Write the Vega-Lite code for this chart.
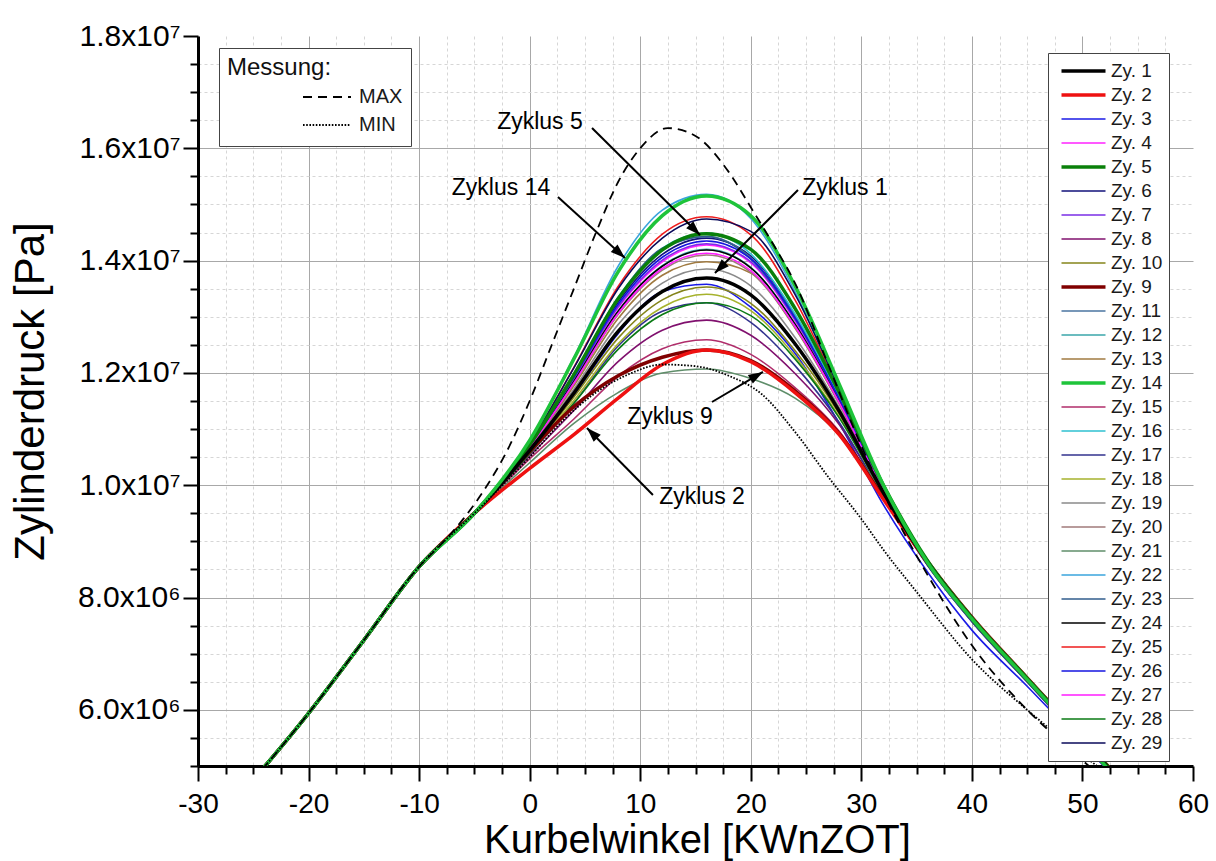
{
  "$schema": "https://vega.github.io/schema/vega-lite/v6.json",
  "width": 995,
  "height": 730,
  "autosize": {"type": "none"},
  "padding": {"left": 198, "top": 36, "right": 23, "bottom": 95},
  "background": "white",
  "config": {
    "font": "Liberation Sans",
    "view": {"stroke": null},
    "axis": {
      "labelFont": "Liberation Sans", "titleFont": "Liberation Sans",
      "labelColor": "#000", "titleColor": "#000", "titleFontWeight": "normal",
      "domainColor": "#000", "domainWidth": 3, "tickColor": "#000", "tickWidth": 2,
      "gridWidth": 1, "labelFlush": false, "labelOverlap": false, "labelBound": false
    },
    "legend": {"labelFont": "Liberation Sans", "titleFont": "Liberation Sans", "labelColor": "#1a1a1a", "titleColor": "#111", "titleFontWeight": "normal"}
  },
  "resolve": {"axis": {"x": "independent", "y": "independent"}},
  "datasets": {
    "zyklen": [
      {"z":"Zy. 3","x":-26,"p":4.52e6},{"z":"Zy. 3","x":-20,"p":5.94e6},{"z":"Zy. 3","x":-15,"p":7.24e6},{"z":"Zy. 3","x":-10,"p":8.55e6},{"z":"Zy. 3","x":-5,"p":9.5e6},{"z":"Zy. 3","x":0,"p":1.06e7},{"z":"Zy. 3","x":4,"p":1.16e7},{"z":"Zy. 3","x":8,"p":1.27e7},{"z":"Zy. 3","x":12,"p":1.345e7},{"z":"Zy. 3","x":16,"p":1.358e7},{"z":"Zy. 3","x":20,"p":1.317e7},{"z":"Zy. 3","x":24,"p":1.235e7},{"z":"Zy. 3","x":28,"p":1.11e7},{"z":"Zy. 3","x":32,"p":9.65e6},{"z":"Zy. 3","x":36,"p":8.45e6},{"z":"Zy. 3","x":40,"p":7.42e6},{"z":"Zy. 3","x":45,"p":6.42e6},{"z":"Zy. 3","x":50,"p":5.4e6},{"z":"Zy. 3","x":53,"p":4.78e6},
      {"z":"Zy. 4","x":-26,"p":4.52e6},{"z":"Zy. 4","x":-20,"p":5.94e6},{"z":"Zy. 4","x":-15,"p":7.24e6},{"z":"Zy. 4","x":-10,"p":8.55e6},{"z":"Zy. 4","x":-5,"p":9.5e6},{"z":"Zy. 4","x":0,"p":1.069e7},{"z":"Zy. 4","x":4,"p":1.188e7},{"z":"Zy. 4","x":8,"p":1.316e7},{"z":"Zy. 4","x":12,"p":1.398e7},{"z":"Zy. 4","x":16,"p":1.428e7},{"z":"Zy. 4","x":20,"p":1.396e7},{"z":"Zy. 4","x":24,"p":1.293e7},{"z":"Zy. 4","x":28,"p":1.151e7},{"z":"Zy. 4","x":32,"p":9.92e6},{"z":"Zy. 4","x":36,"p":8.61e6},{"z":"Zy. 4","x":40,"p":7.61e6},{"z":"Zy. 4","x":45,"p":6.53e6},{"z":"Zy. 4","x":50,"p":5.46e6},{"z":"Zy. 4","x":53,"p":4.81e6},
      {"z":"Zy. 6","x":-26,"p":4.52e6},{"z":"Zy. 6","x":-20,"p":5.94e6},{"z":"Zy. 6","x":-15,"p":7.24e6},{"z":"Zy. 6","x":-10,"p":8.55e6},{"z":"Zy. 6","x":-5,"p":9.5e6},{"z":"Zy. 6","x":0,"p":1.071e7},{"z":"Zy. 6","x":4,"p":1.194e7},{"z":"Zy. 6","x":8,"p":1.326e7},{"z":"Zy. 6","x":12,"p":1.411e7},{"z":"Zy. 6","x":16,"p":1.44e7},{"z":"Zy. 6","x":20,"p":1.408e7},{"z":"Zy. 6","x":24,"p":1.302e7},{"z":"Zy. 6","x":28,"p":1.156e7},{"z":"Zy. 6","x":32,"p":9.93e6},{"z":"Zy. 6","x":36,"p":8.61e6},{"z":"Zy. 6","x":40,"p":7.6e6},{"z":"Zy. 6","x":45,"p":6.52e6},{"z":"Zy. 6","x":50,"p":5.45e6},{"z":"Zy. 6","x":53,"p":4.8e6},
      {"z":"Zy. 7","x":-26,"p":4.52e6},{"z":"Zy. 7","x":-20,"p":5.94e6},{"z":"Zy. 7","x":-15,"p":7.24e6},{"z":"Zy. 7","x":-10,"p":8.55e6},{"z":"Zy. 7","x":-5,"p":9.5e6},{"z":"Zy. 7","x":0,"p":1.069e7},{"z":"Zy. 7","x":4,"p":1.189e7},{"z":"Zy. 7","x":8,"p":1.318e7},{"z":"Zy. 7","x":12,"p":1.401e7},{"z":"Zy. 7","x":16,"p":1.43e7},{"z":"Zy. 7","x":20,"p":1.398e7},{"z":"Zy. 7","x":24,"p":1.295e7},{"z":"Zy. 7","x":28,"p":1.152e7},{"z":"Zy. 7","x":32,"p":9.92e6},{"z":"Zy. 7","x":36,"p":8.6e6},{"z":"Zy. 7","x":40,"p":7.59e6},{"z":"Zy. 7","x":45,"p":6.51e6},{"z":"Zy. 7","x":50,"p":5.44e6},{"z":"Zy. 7","x":53,"p":4.79e6},
      {"z":"Zy. 8","x":-26,"p":4.52e6},{"z":"Zy. 8","x":-20,"p":5.94e6},{"z":"Zy. 8","x":-15,"p":7.24e6},{"z":"Zy. 8","x":-10,"p":8.55e6},{"z":"Zy. 8","x":-5,"p":9.5e6},{"z":"Zy. 8","x":0,"p":1.052e7},{"z":"Zy. 8","x":4,"p":1.133e7},{"z":"Zy. 8","x":8,"p":1.22e7},{"z":"Zy. 8","x":12,"p":1.276e7},{"z":"Zy. 8","x":16,"p":1.294e7},{"z":"Zy. 8","x":20,"p":1.267e7},{"z":"Zy. 8","x":24,"p":1.199e7},{"z":"Zy. 8","x":28,"p":1.108e7},{"z":"Zy. 8","x":32,"p":9.8e6},{"z":"Zy. 8","x":36,"p":8.58e6},{"z":"Zy. 8","x":40,"p":7.58e6},{"z":"Zy. 8","x":45,"p":6.5e6},{"z":"Zy. 8","x":50,"p":5.43e6},{"z":"Zy. 8","x":53,"p":4.78e6},
      {"z":"Zy. 10","x":-26,"p":4.52e6},{"z":"Zy. 10","x":-20,"p":5.94e6},{"z":"Zy. 10","x":-15,"p":7.24e6},{"z":"Zy. 10","x":-10,"p":8.55e6},{"z":"Zy. 10","x":-5,"p":9.5e6},{"z":"Zy. 10","x":0,"p":1.059e7},{"z":"Zy. 10","x":4,"p":1.157e7},{"z":"Zy. 10","x":8,"p":1.262e7},{"z":"Zy. 10","x":12,"p":1.33e7},{"z":"Zy. 10","x":16,"p":1.353e7},{"z":"Zy. 10","x":20,"p":1.324e7},{"z":"Zy. 10","x":24,"p":1.24e7},{"z":"Zy. 10","x":28,"p":1.127e7},{"z":"Zy. 10","x":32,"p":9.85e6},{"z":"Zy. 10","x":36,"p":8.6e6},{"z":"Zy. 10","x":40,"p":7.6e6},{"z":"Zy. 10","x":45,"p":6.52e6},{"z":"Zy. 10","x":50,"p":5.45e6},{"z":"Zy. 10","x":53,"p":4.8e6},
      {"z":"Zy. 11","x":-26,"p":4.52e6},{"z":"Zy. 11","x":-20,"p":5.94e6},{"z":"Zy. 11","x":-15,"p":7.24e6},{"z":"Zy. 11","x":-10,"p":8.55e6},{"z":"Zy. 11","x":-5,"p":9.5e6},{"z":"Zy. 11","x":0,"p":1.071e7},{"z":"Zy. 11","x":4,"p":1.196e7},{"z":"Zy. 11","x":8,"p":1.33e7},{"z":"Zy. 11","x":12,"p":1.42e7},{"z":"Zy. 11","x":16,"p":1.443e7},{"z":"Zy. 11","x":20,"p":1.405e7},{"z":"Zy. 11","x":24,"p":1.3e7},{"z":"Zy. 11","x":28,"p":1.155e7},{"z":"Zy. 11","x":32,"p":9.9e6},{"z":"Zy. 11","x":36,"p":8.58e6},{"z":"Zy. 11","x":40,"p":7.58e6},{"z":"Zy. 11","x":45,"p":6.5e6},{"z":"Zy. 11","x":50,"p":5.44e6},{"z":"Zy. 11","x":53,"p":4.79e6},
      {"z":"Zy. 12","x":-26,"p":4.52e6},{"z":"Zy. 12","x":-20,"p":5.94e6},{"z":"Zy. 12","x":-15,"p":7.24e6},{"z":"Zy. 12","x":-10,"p":8.55e6},{"z":"Zy. 12","x":-5,"p":9.5e6},{"z":"Zy. 12","x":0,"p":1.068e7},{"z":"Zy. 12","x":4,"p":1.185e7},{"z":"Zy. 12","x":8,"p":1.31e7},{"z":"Zy. 12","x":12,"p":1.391e7},{"z":"Zy. 12","x":16,"p":1.42e7},{"z":"Zy. 12","x":20,"p":1.388e7},{"z":"Zy. 12","x":24,"p":1.287e7},{"z":"Zy. 12","x":28,"p":1.149e7},{"z":"Zy. 12","x":32,"p":9.91e6},{"z":"Zy. 12","x":36,"p":8.6e6},{"z":"Zy. 12","x":40,"p":7.6e6},{"z":"Zy. 12","x":45,"p":6.52e6},{"z":"Zy. 12","x":50,"p":5.45e6},{"z":"Zy. 12","x":53,"p":4.8e6},
      {"z":"Zy. 13","x":-26,"p":4.52e6},{"z":"Zy. 13","x":-20,"p":5.94e6},{"z":"Zy. 13","x":-15,"p":7.24e6},{"z":"Zy. 13","x":-10,"p":8.55e6},{"z":"Zy. 13","x":-5,"p":9.5e6},{"z":"Zy. 13","x":0,"p":1.065e7},{"z":"Zy. 13","x":4,"p":1.177e7},{"z":"Zy. 13","x":8,"p":1.297e7},{"z":"Zy. 13","x":12,"p":1.374e7},{"z":"Zy. 13","x":16,"p":1.398e7},{"z":"Zy. 13","x":20,"p":1.378e7},{"z":"Zy. 13","x":24,"p":1.28e7},{"z":"Zy. 13","x":28,"p":1.145e7},{"z":"Zy. 13","x":32,"p":9.9e6},{"z":"Zy. 13","x":36,"p":8.62e6},{"z":"Zy. 13","x":40,"p":7.62e6},{"z":"Zy. 13","x":45,"p":6.54e6},{"z":"Zy. 13","x":50,"p":5.47e6},{"z":"Zy. 13","x":53,"p":4.82e6},
      {"z":"Zy. 15","x":-26,"p":4.52e6},{"z":"Zy. 15","x":-20,"p":5.94e6},{"z":"Zy. 15","x":-15,"p":7.24e6},{"z":"Zy. 15","x":-10,"p":8.55e6},{"z":"Zy. 15","x":-5,"p":9.5e6},{"z":"Zy. 15","x":0,"p":1.047e7},{"z":"Zy. 15","x":4,"p":1.118e7},{"z":"Zy. 15","x":8,"p":1.194e7},{"z":"Zy. 15","x":12,"p":1.243e7},{"z":"Zy. 15","x":16,"p":1.259e7},{"z":"Zy. 15","x":20,"p":1.233e7},{"z":"Zy. 15","x":24,"p":1.174e7},{"z":"Zy. 15","x":28,"p":1.096e7},{"z":"Zy. 15","x":32,"p":9.77e6},{"z":"Zy. 15","x":36,"p":8.59e6},{"z":"Zy. 15","x":40,"p":7.59e6},{"z":"Zy. 15","x":45,"p":6.51e6},{"z":"Zy. 15","x":50,"p":5.44e6},{"z":"Zy. 15","x":53,"p":4.79e6},
      {"z":"Zy. 16","x":-26,"p":4.52e6},{"z":"Zy. 16","x":-20,"p":5.94e6},{"z":"Zy. 16","x":-15,"p":7.24e6},{"z":"Zy. 16","x":-10,"p":8.55e6},{"z":"Zy. 16","x":-5,"p":9.5e6},{"z":"Zy. 16","x":0,"p":1.072e7},{"z":"Zy. 16","x":4,"p":1.197e7},{"z":"Zy. 16","x":8,"p":1.335e7},{"z":"Zy. 16","x":12,"p":1.422e7},{"z":"Zy. 16","x":16,"p":1.449e7},{"z":"Zy. 16","x":20,"p":1.412e7},{"z":"Zy. 16","x":24,"p":1.305e7},{"z":"Zy. 16","x":28,"p":1.158e7},{"z":"Zy. 16","x":32,"p":9.94e6},{"z":"Zy. 16","x":36,"p":8.6e6},{"z":"Zy. 16","x":40,"p":7.6e6},{"z":"Zy. 16","x":45,"p":6.52e6},{"z":"Zy. 16","x":50,"p":5.45e6},{"z":"Zy. 16","x":53,"p":4.8e6},
      {"z":"Zy. 17","x":-26,"p":4.52e6},{"z":"Zy. 17","x":-20,"p":5.94e6},{"z":"Zy. 17","x":-15,"p":7.24e6},{"z":"Zy. 17","x":-10,"p":8.55e6},{"z":"Zy. 17","x":-5,"p":9.5e6},{"z":"Zy. 17","x":0,"p":1.056e7},{"z":"Zy. 17","x":4,"p":1.146e7},{"z":"Zy. 17","x":8,"p":1.248e7},{"z":"Zy. 17","x":12,"p":1.31e7},{"z":"Zy. 17","x":16,"p":1.325e7},{"z":"Zy. 17","x":20,"p":1.29e7},{"z":"Zy. 17","x":24,"p":1.213e7},{"z":"Zy. 17","x":28,"p":1.112e7},{"z":"Zy. 17","x":32,"p":9.8e6},{"z":"Zy. 17","x":36,"p":8.57e6},{"z":"Zy. 17","x":40,"p":7.57e6},{"z":"Zy. 17","x":45,"p":6.5e6},{"z":"Zy. 17","x":50,"p":5.43e6},{"z":"Zy. 17","x":53,"p":4.78e6},
      {"z":"Zy. 18","x":-26,"p":4.52e6},{"z":"Zy. 18","x":-20,"p":5.94e6},{"z":"Zy. 18","x":-15,"p":7.24e6},{"z":"Zy. 18","x":-10,"p":8.55e6},{"z":"Zy. 18","x":-5,"p":9.5e6},{"z":"Zy. 18","x":0,"p":1.058e7},{"z":"Zy. 18","x":4,"p":1.151e7},{"z":"Zy. 18","x":8,"p":1.252e7},{"z":"Zy. 18","x":12,"p":1.317e7},{"z":"Zy. 18","x":16,"p":1.34e7},{"z":"Zy. 18","x":20,"p":1.311e7},{"z":"Zy. 18","x":24,"p":1.23e7},{"z":"Zy. 18","x":28,"p":1.122e7},{"z":"Zy. 18","x":32,"p":9.84e6},{"z":"Zy. 18","x":36,"p":8.6e6},{"z":"Zy. 18","x":40,"p":7.6e6},{"z":"Zy. 18","x":45,"p":6.52e6},{"z":"Zy. 18","x":50,"p":5.45e6},{"z":"Zy. 18","x":53,"p":4.8e6},
      {"z":"Zy. 19","x":-26,"p":4.52e6},{"z":"Zy. 19","x":-20,"p":5.94e6},{"z":"Zy. 19","x":-15,"p":7.24e6},{"z":"Zy. 19","x":-10,"p":8.55e6},{"z":"Zy. 19","x":-5,"p":9.5e6},{"z":"Zy. 19","x":0,"p":1.064e7},{"z":"Zy. 19","x":4,"p":1.171e7},{"z":"Zy. 19","x":8,"p":1.286e7},{"z":"Zy. 19","x":12,"p":1.36e7},{"z":"Zy. 19","x":16,"p":1.385e7},{"z":"Zy. 19","x":20,"p":1.355e7},{"z":"Zy. 19","x":24,"p":1.263e7},{"z":"Zy. 19","x":28,"p":1.138e7},{"z":"Zy. 19","x":32,"p":9.88e6},{"z":"Zy. 19","x":36,"p":8.61e6},{"z":"Zy. 19","x":40,"p":7.61e6},{"z":"Zy. 19","x":45,"p":6.53e6},{"z":"Zy. 19","x":50,"p":5.46e6},{"z":"Zy. 19","x":53,"p":4.81e6},
      {"z":"Zy. 20","x":-26,"p":4.52e6},{"z":"Zy. 20","x":-20,"p":5.94e6},{"z":"Zy. 20","x":-15,"p":7.24e6},{"z":"Zy. 20","x":-10,"p":8.55e6},{"z":"Zy. 20","x":-5,"p":9.5e6},{"z":"Zy. 20","x":0,"p":1.067e7},{"z":"Zy. 20","x":4,"p":1.181e7},{"z":"Zy. 20","x":8,"p":1.304e7},{"z":"Zy. 20","x":12,"p":1.383e7},{"z":"Zy. 20","x":16,"p":1.41e7},{"z":"Zy. 20","x":20,"p":1.379e7},{"z":"Zy. 20","x":24,"p":1.281e7},{"z":"Zy. 20","x":28,"p":1.146e7},{"z":"Zy. 20","x":32,"p":9.9e6},{"z":"Zy. 20","x":36,"p":8.6e6},{"z":"Zy. 20","x":40,"p":7.6e6},{"z":"Zy. 20","x":45,"p":6.52e6},{"z":"Zy. 20","x":50,"p":5.45e6},{"z":"Zy. 20","x":53,"p":4.8e6},
      {"z":"Zy. 21","x":-26,"p":4.52e6},{"z":"Zy. 21","x":-20,"p":5.94e6},{"z":"Zy. 21","x":-15,"p":7.24e6},{"z":"Zy. 21","x":-10,"p":8.55e6},{"z":"Zy. 21","x":-5,"p":9.5e6},{"z":"Zy. 21","x":0,"p":1.04e7},{"z":"Zy. 21","x":4,"p":1.11e7},{"z":"Zy. 21","x":8,"p":1.165e7},{"z":"Zy. 21","x":12,"p":1.2e7},{"z":"Zy. 21","x":16,"p":1.207e7},{"z":"Zy. 21","x":20,"p":1.19e7},{"z":"Zy. 21","x":24,"p":1.155e7},{"z":"Zy. 21","x":28,"p":1.09e7},{"z":"Zy. 21","x":32,"p":9.85e6},{"z":"Zy. 21","x":36,"p":8.66e6},{"z":"Zy. 21","x":40,"p":7.66e6},{"z":"Zy. 21","x":45,"p":6.58e6},{"z":"Zy. 21","x":50,"p":5.5e6},{"z":"Zy. 21","x":53,"p":4.86e6},
      {"z":"Zy. 22","x":-26,"p":4.52e6},{"z":"Zy. 22","x":-20,"p":5.94e6},{"z":"Zy. 22","x":-15,"p":7.24e6},{"z":"Zy. 22","x":-10,"p":8.55e6},{"z":"Zy. 22","x":-5,"p":9.5e6},{"z":"Zy. 22","x":0,"p":1.08e7},{"z":"Zy. 22","x":4,"p":1.228e7},{"z":"Zy. 22","x":8,"p":1.39e7},{"z":"Zy. 22","x":12,"p":1.49e7},{"z":"Zy. 22","x":16,"p":1.518e7},{"z":"Zy. 22","x":20,"p":1.475e7},{"z":"Zy. 22","x":24,"p":1.345e7},{"z":"Zy. 22","x":28,"p":1.17e7},{"z":"Zy. 22","x":32,"p":9.95e6},{"z":"Zy. 22","x":36,"p":8.6e6},{"z":"Zy. 22","x":40,"p":7.6e6},{"z":"Zy. 22","x":45,"p":6.52e6},{"z":"Zy. 22","x":50,"p":5.45e6},{"z":"Zy. 22","x":53,"p":4.8e6},
      {"z":"Zy. 23","x":-26,"p":4.52e6},{"z":"Zy. 23","x":-20,"p":5.94e6},{"z":"Zy. 23","x":-15,"p":7.24e6},{"z":"Zy. 23","x":-10,"p":8.55e6},{"z":"Zy. 23","x":-5,"p":9.5e6},{"z":"Zy. 23","x":0,"p":1.071e7},{"z":"Zy. 23","x":4,"p":1.197e7},{"z":"Zy. 23","x":8,"p":1.333e7},{"z":"Zy. 23","x":12,"p":1.422e7},{"z":"Zy. 23","x":16,"p":1.443e7},{"z":"Zy. 23","x":20,"p":1.403e7},{"z":"Zy. 23","x":24,"p":1.298e7},{"z":"Zy. 23","x":28,"p":1.153e7},{"z":"Zy. 23","x":32,"p":9.9e6},{"z":"Zy. 23","x":36,"p":8.58e6},{"z":"Zy. 23","x":40,"p":7.58e6},{"z":"Zy. 23","x":45,"p":6.5e6},{"z":"Zy. 23","x":50,"p":5.43e6},{"z":"Zy. 23","x":53,"p":4.78e6},
      {"z":"Zy. 24","x":-26,"p":4.52e6},{"z":"Zy. 24","x":-20,"p":5.94e6},{"z":"Zy. 24","x":-15,"p":7.24e6},{"z":"Zy. 24","x":-10,"p":8.55e6},{"z":"Zy. 24","x":-5,"p":9.5e6},{"z":"Zy. 24","x":0,"p":1.068e7},{"z":"Zy. 24","x":4,"p":1.185e7},{"z":"Zy. 24","x":8,"p":1.31e7},{"z":"Zy. 24","x":12,"p":1.39e7},{"z":"Zy. 24","x":16,"p":1.419e7},{"z":"Zy. 24","x":20,"p":1.387e7},{"z":"Zy. 24","x":24,"p":1.287e7},{"z":"Zy. 24","x":28,"p":1.149e7},{"z":"Zy. 24","x":32,"p":9.91e6},{"z":"Zy. 24","x":36,"p":8.6e6},{"z":"Zy. 24","x":40,"p":7.6e6},{"z":"Zy. 24","x":45,"p":6.52e6},{"z":"Zy. 24","x":50,"p":5.45e6},{"z":"Zy. 24","x":53,"p":4.8e6},
      {"z":"Zy. 25","x":-26,"p":4.52e6},{"z":"Zy. 25","x":-20,"p":5.94e6},{"z":"Zy. 25","x":-15,"p":7.24e6},{"z":"Zy. 25","x":-10,"p":8.55e6},{"z":"Zy. 25","x":-5,"p":9.5e6},{"z":"Zy. 25","x":0,"p":1.075e7},{"z":"Zy. 25","x":4,"p":1.21e7},{"z":"Zy. 25","x":8,"p":1.354e7},{"z":"Zy. 25","x":12,"p":1.447e7},{"z":"Zy. 25","x":16,"p":1.478e7},{"z":"Zy. 25","x":20,"p":1.446e7},{"z":"Zy. 25","x":24,"p":1.33e7},{"z":"Zy. 25","x":28,"p":1.168e7},{"z":"Zy. 25","x":32,"p":9.97e6},{"z":"Zy. 25","x":36,"p":8.63e6},{"z":"Zy. 25","x":40,"p":7.63e6},{"z":"Zy. 25","x":45,"p":6.55e6},{"z":"Zy. 25","x":50,"p":5.48e6},{"z":"Zy. 25","x":53,"p":4.83e6},
      {"z":"Zy. 26","x":-26,"p":4.52e6},{"z":"Zy. 26","x":-20,"p":5.94e6},{"z":"Zy. 26","x":-15,"p":7.24e6},{"z":"Zy. 26","x":-10,"p":8.55e6},{"z":"Zy. 26","x":-5,"p":9.5e6},{"z":"Zy. 26","x":0,"p":1.07e7},{"z":"Zy. 26","x":4,"p":1.192e7},{"z":"Zy. 26","x":8,"p":1.322e7},{"z":"Zy. 26","x":12,"p":1.406e7},{"z":"Zy. 26","x":16,"p":1.435e7},{"z":"Zy. 26","x":20,"p":1.403e7},{"z":"Zy. 26","x":24,"p":1.298e7},{"z":"Zy. 26","x":28,"p":1.154e7},{"z":"Zy. 26","x":32,"p":9.93e6},{"z":"Zy. 26","x":36,"p":8.6e6},{"z":"Zy. 26","x":40,"p":7.6e6},{"z":"Zy. 26","x":45,"p":6.52e6},{"z":"Zy. 26","x":50,"p":5.45e6},{"z":"Zy. 26","x":53,"p":4.8e6},
      {"z":"Zy. 27","x":-26,"p":4.52e6},{"z":"Zy. 27","x":-20,"p":5.94e6},{"z":"Zy. 27","x":-15,"p":7.24e6},{"z":"Zy. 27","x":-10,"p":8.55e6},{"z":"Zy. 27","x":-5,"p":9.5e6},{"z":"Zy. 27","x":0,"p":1.067e7},{"z":"Zy. 27","x":4,"p":1.182e7},{"z":"Zy. 27","x":8,"p":1.306e7},{"z":"Zy. 27","x":12,"p":1.386e7},{"z":"Zy. 27","x":16,"p":1.413e7},{"z":"Zy. 27","x":20,"p":1.382e7},{"z":"Zy. 27","x":24,"p":1.283e7},{"z":"Zy. 27","x":28,"p":1.147e7},{"z":"Zy. 27","x":32,"p":9.91e6},{"z":"Zy. 27","x":36,"p":8.6e6},{"z":"Zy. 27","x":40,"p":7.6e6},{"z":"Zy. 27","x":45,"p":6.52e6},{"z":"Zy. 27","x":50,"p":5.45e6},{"z":"Zy. 27","x":53,"p":4.8e6},
      {"z":"Zy. 28","x":-26,"p":4.52e6},{"z":"Zy. 28","x":-20,"p":5.94e6},{"z":"Zy. 28","x":-15,"p":7.24e6},{"z":"Zy. 28","x":-10,"p":8.55e6},{"z":"Zy. 28","x":-5,"p":9.5e6},{"z":"Zy. 28","x":0,"p":1.056e7},{"z":"Zy. 28","x":4,"p":1.146e7},{"z":"Zy. 28","x":8,"p":1.242e7},{"z":"Zy. 28","x":12,"p":1.304e7},{"z":"Zy. 28","x":16,"p":1.325e7},{"z":"Zy. 28","x":20,"p":1.302e7},{"z":"Zy. 28","x":24,"p":1.225e7},{"z":"Zy. 28","x":28,"p":1.12e7},{"z":"Zy. 28","x":32,"p":9.85e6},{"z":"Zy. 28","x":36,"p":8.61e6},{"z":"Zy. 28","x":40,"p":7.61e6},{"z":"Zy. 28","x":45,"p":6.53e6},{"z":"Zy. 28","x":50,"p":5.46e6},{"z":"Zy. 28","x":53,"p":4.81e6},
      {"z":"Zy. 29","x":-26,"p":4.52e6},{"z":"Zy. 29","x":-20,"p":5.94e6},{"z":"Zy. 29","x":-15,"p":7.24e6},{"z":"Zy. 29","x":-10,"p":8.55e6},{"z":"Zy. 29","x":-5,"p":9.5e6},{"z":"Zy. 29","x":0,"p":1.075e7},{"z":"Zy. 29","x":4,"p":1.209e7},{"z":"Zy. 29","x":8,"p":1.35e7},{"z":"Zy. 29","x":12,"p":1.44e7},{"z":"Zy. 29","x":16,"p":1.474e7},{"z":"Zy. 29","x":20,"p":1.452e7},{"z":"Zy. 29","x":24,"p":1.34e7},{"z":"Zy. 29","x":28,"p":1.172e7},{"z":"Zy. 29","x":32,"p":9.98e6},{"z":"Zy. 29","x":36,"p":8.64e6},{"z":"Zy. 29","x":40,"p":7.64e6},{"z":"Zy. 29","x":45,"p":6.56e6},{"z":"Zy. 29","x":50,"p":5.49e6},{"z":"Zy. 29","x":53,"p":4.84e6},
      {"z":"Zy. 9","x":-26,"p":4.52e6},{"z":"Zy. 9","x":-20,"p":5.94e6},{"z":"Zy. 9","x":-15,"p":7.24e6},{"z":"Zy. 9","x":-10,"p":8.55e6},{"z":"Zy. 9","x":-5,"p":9.5e6},{"z":"Zy. 9","x":0,"p":1.06e7},{"z":"Zy. 9","x":4,"p":1.14e7},{"z":"Zy. 9","x":8,"p":1.195e7},{"z":"Zy. 9","x":12,"p":1.228e7},{"z":"Zy. 9","x":16,"p":1.241e7},{"z":"Zy. 9","x":20,"p":1.222e7},{"z":"Zy. 9","x":24,"p":1.168e7},{"z":"Zy. 9","x":28,"p":1.092e7},{"z":"Zy. 9","x":32,"p":9.78e6},{"z":"Zy. 9","x":36,"p":8.64e6},{"z":"Zy. 9","x":40,"p":7.65e6},{"z":"Zy. 9","x":45,"p":6.57e6},{"z":"Zy. 9","x":50,"p":5.5e6},{"z":"Zy. 9","x":53,"p":4.85e6},
      {"z":"Zy. 2","x":-26,"p":4.52e6},{"z":"Zy. 2","x":-20,"p":5.94e6},{"z":"Zy. 2","x":-15,"p":7.24e6},{"z":"Zy. 2","x":-10,"p":8.55e6},{"z":"Zy. 2","x":-5,"p":9.5e6},{"z":"Zy. 2","x":0,"p":1.03e7},{"z":"Zy. 2","x":4,"p":1.09e7},{"z":"Zy. 2","x":8,"p":1.155e7},{"z":"Zy. 2","x":12,"p":1.215e7},{"z":"Zy. 2","x":16,"p":1.241e7},{"z":"Zy. 2","x":20,"p":1.22e7},{"z":"Zy. 2","x":24,"p":1.165e7},{"z":"Zy. 2","x":28,"p":1.09e7},{"z":"Zy. 2","x":32,"p":9.75e6},{"z":"Zy. 2","x":36,"p":8.62e6},{"z":"Zy. 2","x":40,"p":7.63e6},{"z":"Zy. 2","x":45,"p":6.55e6},{"z":"Zy. 2","x":50,"p":5.48e6},{"z":"Zy. 2","x":53,"p":4.83e6},
      {"z":"Zy. 5","x":-26,"p":4.52e6},{"z":"Zy. 5","x":-20,"p":5.94e6},{"z":"Zy. 5","x":-15,"p":7.24e6},{"z":"Zy. 5","x":-10,"p":8.55e6},{"z":"Zy. 5","x":-5,"p":9.5e6},{"z":"Zy. 5","x":0,"p":1.072e7},{"z":"Zy. 5","x":4,"p":1.197e7},{"z":"Zy. 5","x":8,"p":1.332e7},{"z":"Zy. 5","x":12,"p":1.419e7},{"z":"Zy. 5","x":16,"p":1.448e7},{"z":"Zy. 5","x":20,"p":1.42e7},{"z":"Zy. 5","x":24,"p":1.315e7},{"z":"Zy. 5","x":28,"p":1.165e7},{"z":"Zy. 5","x":32,"p":1.0e7},{"z":"Zy. 5","x":36,"p":8.65e6},{"z":"Zy. 5","x":40,"p":7.64e6},{"z":"Zy. 5","x":45,"p":6.56e6},{"z":"Zy. 5","x":50,"p":5.49e6},{"z":"Zy. 5","x":53,"p":4.84e6},
      {"z":"Zy. 1","x":-26,"p":4.52e6},{"z":"Zy. 1","x":-20,"p":5.94e6},{"z":"Zy. 1","x":-15,"p":7.24e6},{"z":"Zy. 1","x":-10,"p":8.55e6},{"z":"Zy. 1","x":-5,"p":9.5e6},{"z":"Zy. 1","x":0,"p":1.062e7},{"z":"Zy. 1","x":4,"p":1.164e7},{"z":"Zy. 1","x":8,"p":1.274e7},{"z":"Zy. 1","x":12,"p":1.345e7},{"z":"Zy. 1","x":16,"p":1.369e7},{"z":"Zy. 1","x":20,"p":1.339e7},{"z":"Zy. 1","x":24,"p":1.252e7},{"z":"Zy. 1","x":28,"p":1.132e7},{"z":"Zy. 1","x":32,"p":9.87e6},{"z":"Zy. 1","x":36,"p":8.62e6},{"z":"Zy. 1","x":40,"p":7.62e6},{"z":"Zy. 1","x":45,"p":6.54e6},{"z":"Zy. 1","x":50,"p":5.47e6},{"z":"Zy. 1","x":53,"p":4.82e6},
      {"z":"Zy. 14","x":-26,"p":4.52e6},{"z":"Zy. 14","x":-20,"p":5.94e6},{"z":"Zy. 14","x":-15,"p":7.24e6},{"z":"Zy. 14","x":-10,"p":8.55e6},{"z":"Zy. 14","x":-5,"p":9.5e6},{"z":"Zy. 14","x":0,"p":1.08e7},{"z":"Zy. 14","x":4,"p":1.225e7},{"z":"Zy. 14","x":8,"p":1.38e7},{"z":"Zy. 14","x":12,"p":1.48e7},{"z":"Zy. 14","x":16,"p":1.515e7},{"z":"Zy. 14","x":20,"p":1.48e7},{"z":"Zy. 14","x":24,"p":1.355e7},{"z":"Zy. 14","x":28,"p":1.18e7},{"z":"Zy. 14","x":32,"p":1.0e7},{"z":"Zy. 14","x":36,"p":8.62e6},{"z":"Zy. 14","x":40,"p":7.62e6},{"z":"Zy. 14","x":45,"p":6.54e6},{"z":"Zy. 14","x":50,"p":5.46e6},{"z":"Zy. 14","x":53,"p":4.8e6}
    ],
    "messung": [
      {"m":"MAX","x":-26,"p":4.52e6},{"m":"MAX","x":-20,"p":5.94e6},{"m":"MAX","x":-15,"p":7.24e6},{"m":"MAX","x":-10,"p":8.55e6},{"m":"MAX","x":-8,"p":8.95e6},{"m":"MAX","x":-6,"p":9.4e6},{"m":"MAX","x":-4,"p":9.95e6},{"m":"MAX","x":-2,"p":1.063e7},{"m":"MAX","x":0,"p":1.15e7},{"m":"MAX","x":2,"p":1.25e7},{"m":"MAX","x":4,"p":1.35e7},{"m":"MAX","x":6,"p":1.45e7},{"m":"MAX","x":8,"p":1.54e7},{"m":"MAX","x":10,"p":1.6e7},{"m":"MAX","x":12.5,"p":1.636e7},{"m":"MAX","x":15,"p":1.622e7},{"m":"MAX","x":18,"p":1.558e7},{"m":"MAX","x":20,"p":1.495e7},{"m":"MAX","x":22,"p":1.43e7},{"m":"MAX","x":24,"p":1.36e7},{"m":"MAX","x":27,"p":1.215e7},{"m":"MAX","x":30,"p":1.07e7},{"m":"MAX","x":32,"p":9.86e6},{"m":"MAX","x":36,"p":8.4e6},{"m":"MAX","x":40,"p":7.15e6},{"m":"MAX","x":45,"p":6.0e6},{"m":"MAX","x":48,"p":5.45e6},{"m":"MAX","x":50,"p":5.1e6},{"m":"MAX","x":52,"p":4.76e6},
      {"m":"MIN","x":-26,"p":4.52e6},{"m":"MIN","x":-20,"p":5.94e6},{"m":"MIN","x":-15,"p":7.24e6},{"m":"MIN","x":-10,"p":8.55e6},{"m":"MIN","x":-5,"p":9.5e6},{"m":"MIN","x":0,"p":1.05e7},{"m":"MIN","x":3,"p":1.115e7},{"m":"MIN","x":6,"p":1.165e7},{"m":"MIN","x":9,"p":1.198e7},{"m":"MIN","x":12,"p":1.215e7},{"m":"MIN","x":15,"p":1.212e7},{"m":"MIN","x":18,"p":1.195e7},{"m":"MIN","x":21,"p":1.162e7},{"m":"MIN","x":24,"p":1.095e7},{"m":"MIN","x":27,"p":1.015e7},{"m":"MIN","x":30,"p":9.4e6},{"m":"MIN","x":32,"p":8.85e6},{"m":"MIN","x":35,"p":8.1e6},{"m":"MIN","x":40,"p":6.9e6},{"m":"MIN","x":45,"p":6.0e6},{"m":"MIN","x":50,"p":5.2e6},{"m":"MIN","x":53,"p":4.75e6}
    ],
    "hinweise": [
      {"t":"Zyklus 5","tx":0.93,"ty":1.6469e7,"x1":5.64,"y1":1.6362e7,"x2":15.41,"y2":1.4456e7,"richtung":135},
      {"t":"Zyklus 14","tx":-2.59,"ty":1.5293e7,"x1":2.56,"y1":1.5133e7,"x2":8.62,"y2":1.4047e7,"richtung":132},
      {"t":"Zyklus 1","tx":28.52,"ty":1.5293e7,"x1":24.27,"y1":1.5257e7,"x2":16.76,"y2":1.3779e7,"richtung":225},
      {"t":"Zyklus 9","tx":12.69,"ty":1.1215e7,"x1":16.49,"y1":1.1482e7,"x2":21.1,"y2":1.2017e7,"richtung":60},
      {"t":"Zyklus 2","tx":15.59,"ty":9.79e6,"x1":11.15,"y1":9.826e6,"x2":5.18,"y2":1.102e7,"richtung":315}
    ]
  },
  "layer": [
    {
      "data": {"name": "zyklen"},
      "transform": [{"filter": {"not": {"field": "z", "oneOf": ["Zy. 1", "Zy. 2", "Zy. 5", "Zy. 9", "Zy. 14"]}}}],
      "mark": {"type": "line", "interpolate": "monotone", "clip": true, "strokeWidth": 1.6},
      "encoding": {
        "x": {
          "field": "x", "type": "quantitative",
          "scale": {"domain": [-30, 60], "nice": false, "zero": false},
          "axis": {
            "orient": "bottom",
            "values": [-30, -20, -10, 0, 10, 20, 30, 40, 50, 60],
            "labelExpr": "'' + datum.value",
            "labelFontSize": 28, "labelPadding": 9, "tickSize": 15,
            "grid": false,
            "title": "Kurbelwinkel [KWnZOT]", "titleFontSize": 40,
            "titleX": 499, "titleY": 86, "titleBaseline": "alphabetic", "titleAlign": "center"
          }
        },
        "y": {
          "field": "p", "type": "quantitative",
          "scale": {"domain": [5000000, 18000000], "nice": false, "zero": false},
          "axis": {
            "orient": "left",
            "values": [6000000, 8000000, 10000000, 12000000, 14000000, 16000000, 18000000],
            "labelExpr": "datum.value >= 10000000 ? format(datum.value / 10000000, '.1f') + 'x10⁷' : format(datum.value / 1000000, '.1f') + 'x10⁶'",
            "labelFontSize": 30, "labelPadding": 3, "tickSize": 15,
            "grid": false,
            "title": "Zylinderdruck [Pa]", "titleFontSize": 42,
            "titleX": -155, "titleY": 355, "titleBaseline": "alphabetic", "titleAlign": "center", "titleAngle": -90
          }
        },
        "color": {
          "field": "z", "type": "nominal",
          "scale": {
            "domain": ["Zy. 1","Zy. 2","Zy. 3","Zy. 4","Zy. 5","Zy. 6","Zy. 7","Zy. 8","Zy. 10","Zy. 9","Zy. 11","Zy. 12","Zy. 13","Zy. 14","Zy. 15","Zy. 16","Zy. 17","Zy. 18","Zy. 19","Zy. 20","Zy. 21","Zy. 22","Zy. 23","Zy. 24","Zy. 25","Zy. 26","Zy. 27","Zy. 28","Zy. 29"],
            "range": ["#000000","#ee1111","#1a1ae6","#ff22ff","#0a800a","#10107a","#7a2ee6","#80106e","#84841a","#800000","#4a74a0","#3aa6aa","#a07a40","#1ec43a","#b02c6a","#2ec0d0","#32328e","#a6b22c","#8a8a8a","#a07a7a","#5f8e6a","#3aa4dc","#305c8c","#000000","#ee1c1c","#1414e0","#ff1cff","#0a7a14","#0a0a5a"]
          },
          "legend": {
            "title": null, "orient": "none", "legendX": 850, "legendY": 17,
            "symbolType": "stroke", "symbolSize": 1936, "clipHeight": 24, "rowPadding": 0,
            "padding": 6, "symbolOffset": 20, "labelOffset": 18,
            "labelFontSize": 19, "labelLimit": 200,
            "strokeColor": "#444", "fillColor": "white",
            "encode": {"symbols": {"update": {"strokeWidth": {"signal": "indexof(['Zy. 1', 'Zy. 2', 'Zy. 5', 'Zy. 9', 'Zy. 14'], datum.value) >= 0 ? 3.5 : 1.6"}}}}
          }
        }
      }
    },
    {
      "data": {"name": "zyklen"},
      "transform": [{"filter": {"field": "z", "oneOf": ["Zy. 1", "Zy. 2", "Zy. 5", "Zy. 9", "Zy. 14"]}}],
      "mark": {"type": "line", "interpolate": "monotone", "clip": true, "strokeWidth": 3.5},
      "encoding": {
        "x": {"field": "x", "type": "quantitative", "scale": {"domain": [-30, 60], "nice": false, "zero": false}, "axis": null},
        "y": {"field": "p", "type": "quantitative", "scale": {"domain": [5000000, 18000000], "nice": false, "zero": false}, "axis": null},
        "color": {
          "field": "z", "type": "nominal",
          "scale": {
            "domain": ["Zy. 1","Zy. 2","Zy. 3","Zy. 4","Zy. 5","Zy. 6","Zy. 7","Zy. 8","Zy. 10","Zy. 9","Zy. 11","Zy. 12","Zy. 13","Zy. 14","Zy. 15","Zy. 16","Zy. 17","Zy. 18","Zy. 19","Zy. 20","Zy. 21","Zy. 22","Zy. 23","Zy. 24","Zy. 25","Zy. 26","Zy. 27","Zy. 28","Zy. 29"],
            "range": ["#000000","#ee1111","#1a1ae6","#ff22ff","#0a800a","#10107a","#7a2ee6","#80106e","#84841a","#800000","#4a74a0","#3aa6aa","#a07a40","#1ec43a","#b02c6a","#2ec0d0","#32328e","#a6b22c","#8a8a8a","#a07a7a","#5f8e6a","#3aa4dc","#305c8c","#000000","#ee1c1c","#1414e0","#ff1cff","#0a7a14","#0a0a5a"]
          },
          "legend": {
            "title": null, "orient": "none", "legendX": 850, "legendY": 17,
            "symbolType": "stroke", "symbolSize": 1936, "clipHeight": 24, "rowPadding": 0,
            "padding": 6, "symbolOffset": 20, "labelOffset": 18,
            "labelFontSize": 19, "labelLimit": 200,
            "strokeColor": "#444", "fillColor": "white",
            "encode": {"symbols": {"update": {"strokeWidth": {"signal": "indexof(['Zy. 1', 'Zy. 2', 'Zy. 5', 'Zy. 9', 'Zy. 14'], datum.value) >= 0 ? 3.5 : 1.6"}}}}
          }
        }
      }
    },
    {
      "data": {"name": "messung"},
      "mark": {"type": "line", "interpolate": "monotone", "clip": true, "stroke": "black", "strokeWidth": 1.8},
      "encoding": {
        "x": {
          "field": "x", "type": "quantitative",
          "scale": {"domain": [-30, 60], "nice": false, "zero": false},
          "axis": {
            "orient": "bottom",
            "values": [-27.5,-25,-22.5,-17.5,-15,-12.5,-7.5,-5,-2.5,2.5,5,7.5,12.5,15,17.5,22.5,25,27.5,32.5,35,37.5,42.5,45,47.5,52.5,55,57.5],
            "labels": false, "domain": false, "tickSize": 8,
            "grid": true, "gridColor": "#d6d6d6", "gridDash": [3, 3], "title": null
          }
        },
        "y": {
          "field": "p", "type": "quantitative",
          "scale": {"domain": [5000000, 18000000], "nice": false, "zero": false},
          "axis": {
            "orient": "left",
            "values": [5000000,5500000,6500000,7000000,7500000,8500000,9000000,9500000,10500000,11000000,11500000,12500000,13000000,13500000,14500000,15000000,15500000,16500000,17000000,17500000],
            "labels": false, "domain": false, "tickSize": 8,
            "grid": true, "gridColor": "#d6d6d6", "gridDash": [3, 3], "title": null
          }
        },
        "strokeDash": {
          "field": "m", "type": "nominal",
          "scale": {"domain": ["MAX", "MIN"], "range": [[9, 6], [1.6, 1.6]]},
          "legend": {
            "title": "Messung:", "orient": "none", "legendX": 21, "legendY": 12,
            "symbolType": "stroke", "symbolSize": 2304, "symbolOffset": 75,
            "symbolStrokeColor": "black", "symbolStrokeWidth": 1.8,
            "clipHeight": 26, "labelOffset": 7, "labelFontSize": 20,
            "titleFontSize": 24, "titlePadding": 4, "padding": 8,
            "strokeColor": "#444", "fillColor": "white"
          }
        }
      }
    },
    {
      "data": {"name": "hinweise"},
      "mark": {"type": "rule", "strokeWidth": 2, "color": "black"},
      "encoding": {
        "x": {
          "field": "x1", "type": "quantitative",
          "scale": {"domain": [-30, 60], "nice": false, "zero": false},
          "axis": {
            "orient": "bottom", "values": [-20, -10, 0, 10, 20, 30, 40, 50],
            "ticks": false, "labels": false, "domain": false, "title": null,
            "grid": true, "gridColor": "#a8a8a8"
          }
        },
        "y": {
          "field": "y1", "type": "quantitative",
          "scale": {"domain": [5000000, 18000000], "nice": false, "zero": false},
          "axis": {
            "orient": "left", "values": [6000000, 8000000, 10000000, 12000000, 14000000, 16000000],
            "ticks": false, "labels": false, "domain": false, "title": null,
            "grid": true, "gridColor": "#a8a8a8"
          }
        },
        "x2": {"field": "x2"},
        "y2": {"field": "y2"}
      }
    },
    {
      "data": {"name": "hinweise"},
      "mark": {"type": "point", "shape": "M0,0L-0.38,1.1L0.38,1.1Z", "filled": true, "color": "black", "opacity": 1, "size": 700},
      "encoding": {
        "x": {"field": "x2", "type": "quantitative", "scale": {"domain": [-30, 60], "nice": false, "zero": false}, "axis": null},
        "y": {"field": "y2", "type": "quantitative", "scale": {"domain": [5000000, 18000000], "nice": false, "zero": false}, "axis": null},
        "angle": {"field": "richtung", "type": "quantitative", "scale": null}
      }
    },
    {
      "data": {"name": "hinweise"},
      "mark": {"type": "text", "fontSize": 23, "font": "Liberation Sans", "color": "black", "align": "center", "baseline": "middle"},
      "encoding": {
        "x": {"field": "tx", "type": "quantitative", "scale": {"domain": [-30, 60], "nice": false, "zero": false}, "axis": null},
        "y": {"field": "ty", "type": "quantitative", "scale": {"domain": [5000000, 18000000], "nice": false, "zero": false}, "axis": null},
        "text": {"field": "t"}
      }
    }
  ]
}
